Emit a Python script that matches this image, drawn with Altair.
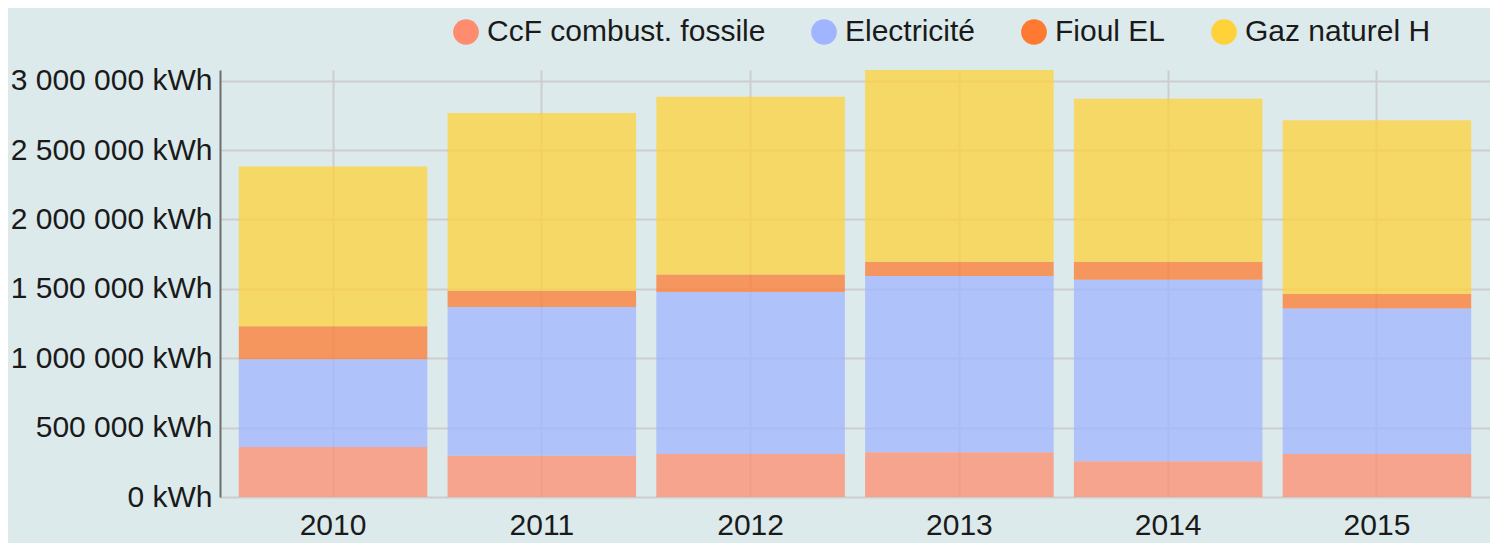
import altair as alt
import pandas as pd

years = ["2010", "2011", "2012", "2013", "2014", "2015"]
sources = ["CcF combust. fossile", "Electricité", "Fioul EL", "Gaz naturel H"]
colors = ["#FF8C6E", "#A0B4FF", "#FF7A30", "#FFD23A"]

ccf = [360000, 297000, 309000, 322000, 257000, 309000]
elec = [633000, 1072000, 1168000, 1270000, 1309000, 1049000]
fioul = [237000, 118000, 127000, 104000, 130000, 105000]
gaz = [1151000, 1281000, 1281000, 1381000, 1174000, 1251000]

series = [ccf, elec, fioul, gaz]
rows = []
for si, (name, vals) in enumerate(zip(sources, series)):
    for y, v in zip(years, vals):
        rows.append({"year": y, "source": name, "value": v, "ord": si})
df = pd.DataFrame(rows)

FONT = "Liberation Sans"
FS = 30

chart = alt.Chart(df).mark_bar(opacity=0.75).encode(
    x=alt.X("year:N", title=None,
            scale=alt.Scale(paddingInner=0.097, paddingOuter=0.09),
            axis=alt.Axis(labelAngle=0, labelPadding=13, ticks=False, domain=False,
                          grid=True, gridColor="#CDCDCD", gridWidth=2, labelLimit=0,
                          labelFontSize=FS, labelColor="#1a1a1a", labelFont=FONT)),
    y=alt.Y("value:Q", title=None, stack="zero",
            scale=alt.Scale(domain=[0, 3077000], nice=False),
            axis=alt.Axis(values=[0, 500000, 1000000, 1500000, 2000000, 2500000, 3000000],
                          labelExpr="replace(format(datum.value, ',d'), /,/g, ' ') + ' kWh'",
                          ticks=False, labelPadding=8, domain=True, domainColor="#6E6E6E",
                          domainWidth=2, grid=True, gridColor="#CDCDCD", gridWidth=2,
                          labelLimit=0,
                          labelFontSize=FS, labelColor="#1a1a1a", labelFont=FONT)),
    color=alt.Color("source:N", scale=alt.Scale(domain=sources, range=colors),
                    legend=alt.Legend(title=None, orient="none", direction="horizontal",
                                      legendX=231, legendY=-53, symbolType="circle",
                                      symbolSize=660, symbolOpacity=1, symbolStrokeWidth=0,
                                      labelFontSize=FS, labelFont=FONT, labelColor="#1a1a1a",
                                      labelOffset=6, columnPadding=43, padding=0,
                                      labelLimit=0)),
    order=alt.Order("ord:Q", sort="ascending"),
).properties(
    width=1270, height=427,
    autosize=alt.AutoSizeParams(type="none"),
    padding={"left": 212, "top": 62, "right": 0, "bottom": 46},
    background="#DCEAEC",
).configure_view(stroke=None)

chart.save("out.html", embed_options={"renderer": "svg", "actions": False})
